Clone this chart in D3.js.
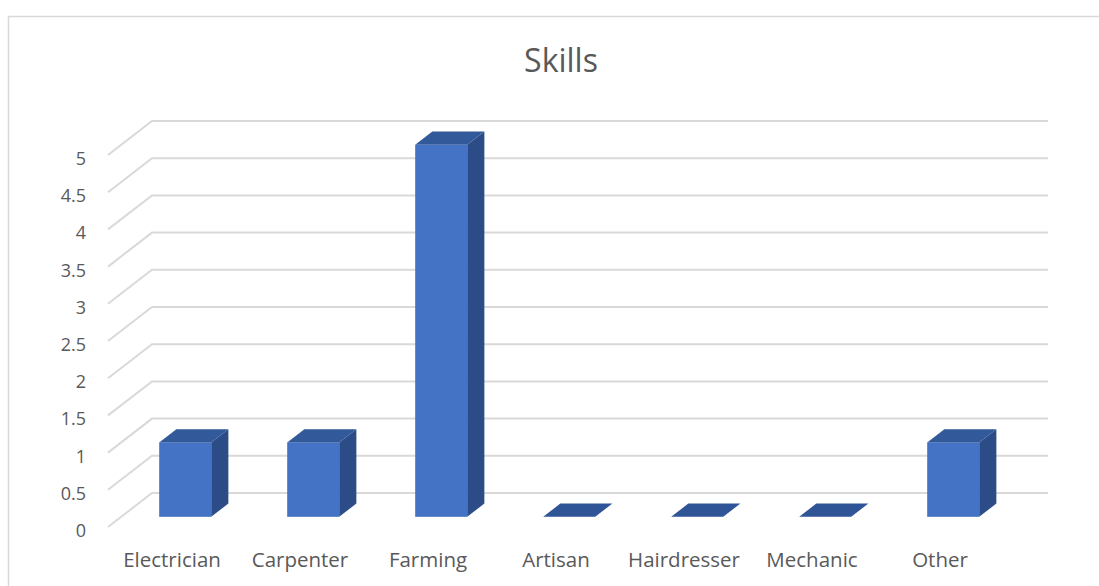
<!DOCTYPE html>
<html>
<head>
<meta charset="utf-8">
<script src="https://cdn.jsdelivr.net/npm/d3@7"></script>
<style>
  html, body { margin: 0; padding: 0; background: #fff; }
  svg { display: block; }
  text { font-family: "Open Sans", "Noto Sans", sans-serif; fill: #595959; }
</style>
</head>
<body>
<svg id="chart" width="1099" height="586"></svg>
<script>
// Skill counts
const categories = ["Electrician", "Carpenter", "Farming", "Artisan", "Hairdresser", "Mechanic", "Other"];
const counts = [1, 1, 5, 0, 0, 0, 1];
const yTicks = [0, 0.5, 1, 1.5, 2, 2.5, 3, 3.5, 4, 4.5, 5];
const tickLabels = ["0", "0.5", "1", "1.5", "2", "2.5", "3", "3.5", "4", "4.5", "5"];
const chartTitle = "Skills";

const W = 1099, H = 586;
const svg = d3.select("#chart");

// outer chart frame
svg.append("rect")
  .attr("x", 8.5).attr("y", 16.5)
  .attr("width", W + 20).attr("height", H + 20)
  .attr("fill", "none").attr("stroke", "#d9d9d9").attr("stroke-width", 1.5);

// front floor plane of the 3D plot
const x = d3.scaleBand().domain(categories).range([108, 1004]).padding(0);
const y = d3.scaleLinear().domain([0, 5]).range([527, 155]);

// depth vector (full depth of the plot box)
const depth = { dx: 44, dy: -34 };
const at = f => ({ dx: depth.dx * f, dy: depth.dy * f });

// gridlines: slanted side wall segment + back wall line
const grid = svg.append("g");
yTicks.forEach(v => {
  const y0 = y(v);
  grid.append("path")
    .attr("d", `M${x.range()[0]},${y0} L${x.range()[0] + depth.dx},${y0 + depth.dy} L${x.range()[1] + depth.dx},${y0 + depth.dy}`)
    .attr("fill", "none")
    .attr("stroke", "#d9d9d9")
    .attr("stroke-width", 2);
});

// y tick labels
svg.append("g").selectAll("text")
  .data(yTicks)
  .join("text")
  .attr("x", 86)
  .attr("y", d => y(d) + 10)
  .attr("text-anchor", "end")
  .attr("font-size", 18)
  .text((d, i) => tickLabels[i]);

// 3D columns
const barW = 52;
const front = at(0.3), back = at(0.69);
const ddx = back.dx - front.dx, ddy = back.dy - front.dy;
const bars = svg.append("g");
categories.forEach((c, i) => {
  const v = counts[i];
  const x0 = x(c) + (x.bandwidth() - barW) / 2 + front.dx;
  const x1 = x0 + barW;
  const yb = y(0) + front.dy;
  const yt = y(v) + front.dy;
  const g = bars.append("g");
  if (v > 0) {
    // side face
    g.append("path")
      .attr("d", `M${x1},${yt} L${x1 + ddx},${yt + ddy} L${x1 + ddx},${yb + ddy} L${x1},${yb} Z`)
      .attr("fill", "#2b4c87");
    // front face
    g.append("rect")
      .attr("x", x0).attr("y", yt)
      .attr("width", barW).attr("height", yb - yt)
      .attr("fill", "#4472c4");
  }
  // top face
  g.append("path")
    .attr("d", `M${x0},${yt} L${x0 + ddx},${yt + ddy} L${x1 + ddx},${yt + ddy} L${x1},${yt} Z`)
    .attr("fill", v > 0 ? "#325999" : "#2f5597");
});

// category labels
svg.append("g").selectAll("text")
  .data(categories)
  .join("text")
  .attr("x", d => x(d) + x.bandwidth() / 2)
  .attr("y", 567)
  .attr("text-anchor", "middle")
  .attr("font-size", 20.5)
  .text(d => d);

// title
svg.append("text")
  .attr("x", 561)
  .attr("y", 72)
  .attr("text-anchor", "middle")
  .attr("font-size", 32)
  .text(chartTitle);
</script>
</body>
</html>
